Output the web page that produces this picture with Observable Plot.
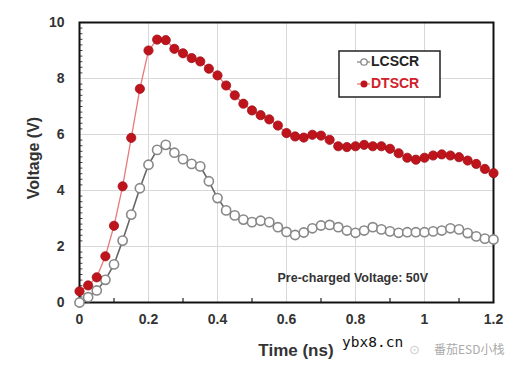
<!DOCTYPE html>
<html><head><meta charset="utf-8">
<script src="https://cdn.jsdelivr.net/npm/d3@7"></script>
<script src="https://cdn.jsdelivr.net/npm/@observablehq/plot@0.6"></script>
<style>
body{margin:0;background:#fff;}
#chart{position:relative;width:520px;height:369px;}
</style>
</head><body><div id="chart"></div>
<script>
const times = [0,0.025,0.05,0.075,0.1,0.125,0.15,0.175,0.2,0.225,0.25,0.275,0.3,0.325,0.35,0.375,0.4,0.425,0.45,0.475,0.5,0.525,0.55,0.575,0.6,0.625,0.65,0.675,0.7,0.725,0.75,0.775,0.8,0.825,0.85,0.875,0.9,0.925,0.95,0.975,1.0,1.025,1.05,1.075,1.1,1.125,1.15,1.175,1.2];
const dtscr = [0.40,0.61,0.90,1.65,2.74,4.15,5.88,7.63,9.00,9.39,9.37,9.06,8.90,8.73,8.61,8.35,8.11,7.75,7.40,7.10,6.86,6.69,6.54,6.32,6.05,5.93,5.89,5.99,5.96,5.81,5.58,5.55,5.58,5.63,5.58,5.58,5.49,5.33,5.17,5.10,5.17,5.25,5.29,5.25,5.19,5.07,4.95,4.77,4.62];
const lcscr = [0.00,0.19,0.43,0.81,1.36,2.21,3.14,4.08,4.92,5.45,5.63,5.35,5.12,4.95,4.86,4.33,3.73,3.29,3.11,2.96,2.87,2.92,2.87,2.69,2.52,2.41,2.50,2.65,2.75,2.77,2.69,2.57,2.49,2.57,2.69,2.61,2.54,2.49,2.51,2.51,2.51,2.54,2.57,2.65,2.61,2.48,2.36,2.28,2.25];
const xTicks = [0,0.2,0.4,0.6,0.8,1,1.2];
const xTickLabels = ["0","0.2","0.4","0.6","0.8","1","1.2"];
const xMinor = [0.1,0.3,0.5,0.7,0.9,1.1];
const yTicks = [0,2,4,6,8,10];
const yMinor = d3.range(0.2,10,0.2).filter(v => Math.abs(v/2 - Math.round(v/2)) > 1e-6);
const seriesNames = ["LCSCR","DTSCR"];
const annotation = "Pre-charged Voltage: 50V";
const annotationAt = {t:0.574, v:0.89};

const dData = times.map((t,i)=>({t, v:dtscr[i]}));
const lData = times.map((t,i)=>({t, v:lcscr[i]}));
const font = "'Liberation Sans', Arial, sans-serif";

const plot = Plot.plot({
  width:520, height:369,
  marginLeft:79, marginRight:27, marginTop:22, marginBottom:67,
  style:{fontFamily:font, background:"#fff"},
  x:{domain:[0,1.2]},
  y:{domain:[0,10]},
  marks:[
    Plot.gridX(xTicks.slice(1,-1), {stroke:"#d8d8d8", strokeOpacity:1, strokeWidth:1}),
    Plot.gridY(yTicks.slice(1,-1), {stroke:"#d8d8d8", strokeOpacity:1, strokeWidth:1}),
    Plot.ruleX(xMinor, {x:d=>d, y1:0, y2:0.14, stroke:"#222", strokeWidth:1.2}),
    Plot.ruleY(yMinor, {y:d=>d, x1:0, x2:0.01, stroke:"#444", strokeWidth:1}),
    Plot.frame({stroke:"#111", strokeWidth:2}),
    Plot.axisX(xTicks, {tickSize:0, tickPadding:12, tickFormat:(d,i)=>xTickLabels[i], fontSize:14, fontWeight:"bold", fill:"#333", label:null}),
    Plot.axisY(yTicks, {tickSize:0, tickPadding:15, fontSize:14, fontWeight:"bold", fill:"#333", label:null}),
    Plot.line(dData, {x:"t", y:"v", stroke:"#e77a7a", strokeWidth:1.3}),
    Plot.line(lData, {x:"t", y:"v", stroke:"#666", strokeWidth:1.6}),
    Plot.dot(lData, {x:"t", y:"v", r:4.6, fill:"#fff", stroke:"#888", strokeWidth:1.6}),
    Plot.dot(dData, {x:"t", y:"v", r:4.6, fill:"#c0141c", stroke:"#a01018", strokeWidth:0.8}),
    Plot.text([annotation], {x:()=>annotationAt.t, y:()=>annotationAt.v, text:d=>d, fontSize:12.5, fontWeight:"bold", fill:"#333", textAnchor:"start"})
  ]
});
document.getElementById("chart").appendChild(plot);
const NS = "http://www.w3.org/2000/svg";
function add(parent, tag, attrs, txt){
  const el = document.createElementNS(NS, tag);
  for (const k in attrs) el.setAttribute(k, attrs[k]);
  if (txt !== undefined) el.textContent = txt;
  parent.appendChild(el);
  return el;
}
const root = plot;
// axis titles
add(root, "text", {transform:"translate(35,158) rotate(-90)", "text-anchor":"middle", "dominant-baseline":"middle", "font-family":font, "font-size":16, "font-weight":"bold", fill:"#333"}, "Voltage (V)");
add(root, "text", {x:296, y:356, "text-anchor":"middle", "font-family":font, "font-size":17, "font-weight":"bold", fill:"#333"}, "Time (ns)");
// legend
const lg = add(root, "g", {});
add(lg, "rect", {x:339, y:51, width:101, height:46, fill:"#ffffff", stroke:"#222222", "stroke-width":1.5});
add(lg, "line", {x1:357, x2:370, y1:62, y2:62, stroke:"#888888", "stroke-width":1.3});
add(lg, "circle", {cx:364, cy:62, r:3.2, fill:"#ffffff", stroke:"#888888", "stroke-width":1.3});
add(lg, "line", {x1:357, x2:370, y1:84, y2:84, stroke:"#e77a7a", "stroke-width":1.3});
add(lg, "circle", {cx:364, cy:84, r:3.5, fill:"#c0141c"});
add(lg, "text", {x:371, y:62, "text-anchor":"start", "dominant-baseline":"middle", "font-family":font, "font-size":14, "font-weight":"bold", fill:"#222"}, seriesNames[0]);
add(lg, "text", {x:371, y:84, "text-anchor":"start", "dominant-baseline":"middle", "font-family":font, "font-size":14, "font-weight":"bold", fill:"#d02028"}, seriesNames[1]);
// watermark
add(root, "text", {x:342, y:347, "text-anchor":"start", "font-family":"'DejaVu Sans Mono', monospace", "font-size":14.5, fill:"#111"}, "ybx8.cn");
add(root, "text", {x:409, y:354, "text-anchor":"start", "font-family":"'DejaVu Sans', sans-serif", "font-size":13, fill:"#ccc"}, "⊙");
add(root, "text", {x:434, y:354, "text-anchor":"start", "font-family":"'Noto Sans CJK SC', sans-serif", "font-size":12, fill:"#aaa"}, "番茄ESD小栈");
</script>
</body></html>
